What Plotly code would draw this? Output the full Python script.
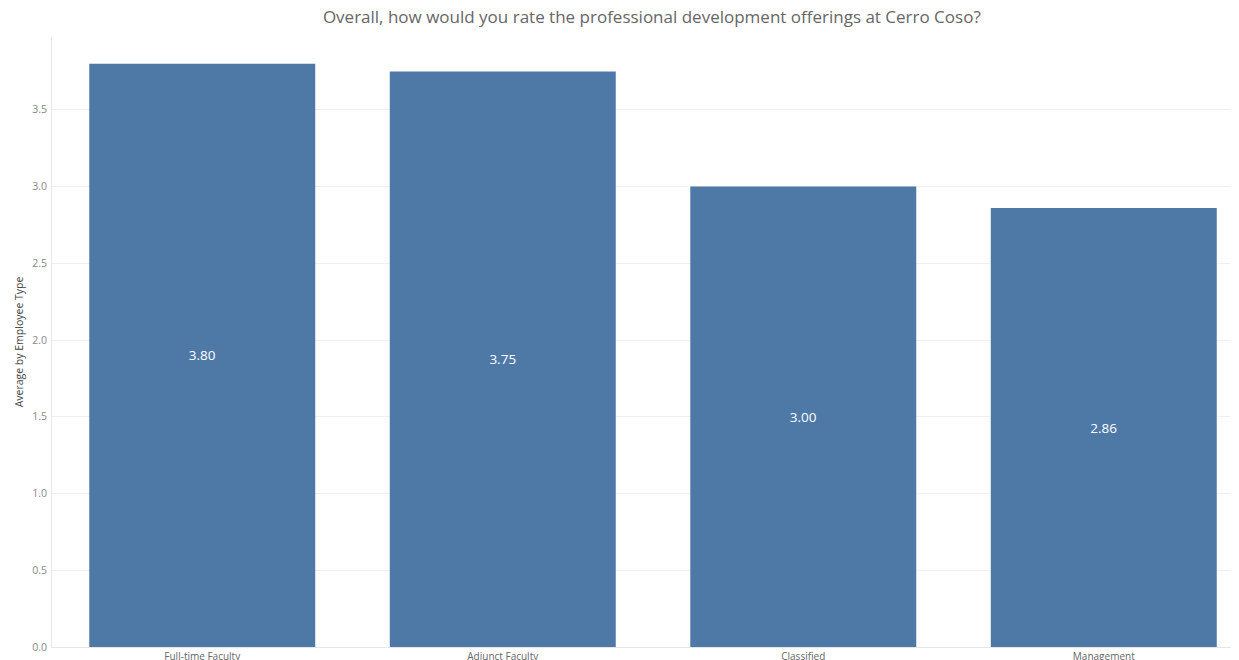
import plotly.graph_objects as go

categories = ["Full-time Faculty", "Adjunct Faculty", "Classified", "Management"]
values = [3.80, 3.75, 3.00, 2.86]
value_labels = ["3.80", "3.75", "3.00", "2.86"]
y_ticks = [0.0, 0.5, 1.0, 1.5, 2.0, 2.5, 3.0, 3.5]
y_tick_labels = ["0.0", "0.5", "1.0", "1.5", "2.0", "2.5", "3.0", "3.5"]

fig = go.Figure(
    go.Bar(
        x=categories,
        y=values,
        text=value_labels,
        textposition="inside",
        insidetextanchor="middle",
        textfont=dict(color="white", size=13.5, family="Open Sans"),
        marker=dict(color="#4e79a7", line=dict(width=0)),
        width=0.752,
        hoverinfo="x+y",
    )
)

# page body has an 8px default margin; figure sized so the plot lands where the reference has it
fig.update_layout(
    width=1231,
    height=652,
    paper_bgcolor="white",
    plot_bgcolor="white",
    margin=dict(l=44, r=0, t=29, b=13),
    showlegend=False,
    title=dict(
        text="Overall, how would you rate the professional development offerings at Cerro Coso?",
        x=0.523,
        xanchor="center",
        y=0.986,
        yanchor="middle",
        font=dict(size=17, color="#666666", family="Open Sans"),
    ),
    font=dict(family="Open Sans"),
    xaxis=dict(
        range=[-0.5, 3.45],
        showgrid=False,
        showline=True,
        linecolor="#e6e6e6",
        linewidth=1,
        tickfont=dict(size=10, color="#666666"),
        ticks="",
        ticklabelstandoff=0,
        automargin=False,
    ),
    yaxis=dict(
        range=[0, 3.974],
        tickvals=y_ticks,
        ticktext=y_tick_labels,
        showgrid=True,
        gridcolor="#f0f0f0",
        gridwidth=1,
        zeroline=False,
        showline=True,
        linecolor="#e6e6e6",
        linewidth=1,
        tickfont=dict(size=10.5, color="#888888"),
        ticks="",
        ticklabelstandoff=2,
        automargin=False,
        title=dict(
            text="Average by Employee Type",
            font=dict(size=10.5, color="#444444"),
            standoff=6,
        ),
    ),
)

fig.write_html("out.html")
